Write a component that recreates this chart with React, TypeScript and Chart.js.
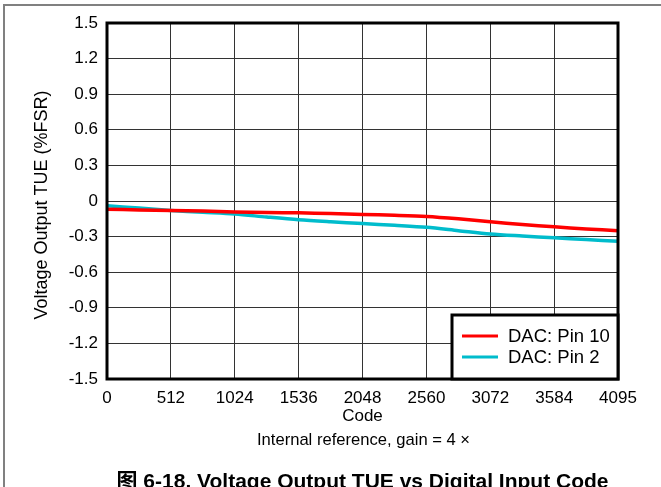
import React, { useEffect, useRef } from "react";
import { Chart, registerables } from "chart.js";

Chart.register(...registerables);

const codes = [0, 256, 512, 768, 1024, 1280, 1536, 1792, 2048, 2304, 2560, 2816, 3072, 3328, 3584, 3840, 4095];
const pin10 = [-0.07, -0.075, -0.08, -0.085, -0.092, -0.097, -0.1, -0.105, -0.113, -0.12, -0.13, -0.15, -0.175, -0.198, -0.218, -0.235, -0.25];
const pin2 = [-0.04, -0.06, -0.08, -0.095, -0.11, -0.135, -0.158, -0.175, -0.19, -0.205, -0.222, -0.25, -0.278, -0.295, -0.31, -0.325, -0.34];
const xTicks = [0, 512, 1024, 1536, 2048, 2560, 3072, 3584, 4095];
const yTicks = [-1.5, -1.2, -0.9, -0.6, -0.3, 0, 0.3, 0.6, 0.9, 1.2, 1.5];
const seriesNames = ["DAC: Pin 10", "DAC: Pin 2"];
const seriesColors = ["#ff0000", "#00bccc"];
const xTitle = "Code";
const yTitle = "Voltage Output TUE (%FSR)";
const subTitle = "Internal reference, gain = 4 ×";
const caption = "图 6-18. Voltage Output TUE vs Digital Input Code";

const FONT = "'Liberation Sans', Arial, sans-serif";

const W = 661;
const H = 487;
const LEFT = 107;
const RIGHT = 618;
const TOP = 23;
const BOTTOM = 379;

const decorPlugin = {
  id: "decor",
  afterDraw(chart: any) {
    const ctx = chart.ctx;
    const a = chart.chartArea;
    ctx.save();
    // outer frame
    ctx.strokeStyle = "#808080";
    ctx.lineWidth = 2;
    ctx.beginPath();
    ctx.moveTo(W, 5);
    ctx.lineTo(4, 5);
    ctx.lineTo(4, H);
    ctx.stroke();
    // plot border
    ctx.strokeStyle = "#000";
    ctx.lineWidth = 3;
    ctx.strokeRect(a.left, a.top, a.right - a.left, a.bottom - a.top);
    // titles
    const cx = (a.left + a.right) / 2;
    ctx.fillStyle = "#000";
    ctx.textAlign = "center";
    ctx.textBaseline = "middle";
    ctx.font = `17px ${FONT}`;
    ctx.fillText(xTitle, cx, 416);
    ctx.font = `16.6px ${FONT}`;
    ctx.fillText(subTitle, cx + 1, 440);
    ctx.font = `bold 21px ${FONT}, 'Noto Sans CJK SC'`;
    ctx.fillText(caption, cx, 482);
    ctx.save();
    ctx.translate(42, 205);
    ctx.rotate(-Math.PI / 2);
    ctx.font = `18px ${FONT}`;
    ctx.fillText(yTitle, 0, 0);
    ctx.restore();
    // legend
    const lx = 452, ly = 315, lw = a.right - 452, lh = a.bottom - 315;
    ctx.fillStyle = "#fff";
    ctx.fillRect(lx, ly, lw, lh);
    ctx.strokeStyle = "#000";
    ctx.lineWidth = 3;
    ctx.strokeRect(lx, ly, lw, lh);
    const rows = [336, 357];
    chart.data.datasets.forEach((ds: any, i: number) => {
      ctx.strokeStyle = ds.borderColor;
      ctx.lineWidth = 3;
      ctx.beginPath();
      ctx.moveTo(462, rows[i]);
      ctx.lineTo(498, rows[i]);
      ctx.stroke();
      ctx.fillStyle = "#000";
      ctx.textAlign = "left";
      ctx.textBaseline = "middle";
      ctx.font = `18.5px ${FONT}`;
      ctx.fillText(ds.label, 508, rows[i] + 1);
    });
    ctx.restore();
  },
};

export default function App() {
  const ref = useRef<HTMLCanvasElement>(null);
  useEffect(() => {
    const canvas = ref.current!;
    const chart = new Chart(canvas, {
      type: "line",
      data: {
        datasets: [
          {
            label: seriesNames[0],
            data: codes.map((c, i) => ({ x: c, y: pin10[i] })),
            borderColor: seriesColors[0],
            borderWidth: 3.5,
            pointRadius: 0,
            tension: 0.3,
          },
          {
            label: seriesNames[1],
            data: codes.map((c, i) => ({ x: c, y: pin2[i] })),
            borderColor: seriesColors[1],
            borderWidth: 3.5,
            pointRadius: 0,
            tension: 0.3,
          },
        ],
      },
      options: {
        responsive: false,
        animation: false,
        layout: { padding: { top: TOP, right: W - RIGHT, left: 0, bottom: 0 } },
        plugins: { legend: { display: false }, tooltip: { enabled: false } },
        scales: {
          x: {
            type: "linear",
            min: 0,
            max: 4095,
            afterBuildTicks: (s: any) => {
              s.ticks = xTicks.map((v) => ({ value: v }));
            },
            afterFit: (s: any) => {
              s.height = H - BOTTOM;
            },
            ticks: {
              autoSkip: false,
              maxRotation: 0,
              padding: 9,
              color: "#000",
              font: { family: FONT, size: 17 },
              callback: (v: any) => String(v),
            },
            grid: { color: "#333", lineWidth: 1, drawTicks: false },
            border: { display: false },
          },
          y: {
            type: "linear",
            min: -1.5,
            max: 1.5,
            afterBuildTicks: (s: any) => {
              s.ticks = yTicks.map((v) => ({ value: v }));
            },
            afterFit: (s: any) => {
              s.width = LEFT;
            },
            ticks: {
              padding: 9,
              color: "#000",
              font: { family: FONT, size: 17 },
              callback: (v: any) => String(Math.round(v * 10) / 10),
            },
            grid: { color: "#333", lineWidth: 1, drawTicks: false },
            border: { display: false },
          },
        },
      },
      plugins: [decorPlugin],
    });
    return () => chart.destroy();
  }, []);
  return (
    <div style={{ position: "fixed", left: 0, top: 0, width: W, height: H, background: "#fff" }}>
      <canvas ref={ref} width={W} height={H} style={{ display: "block", width: W, height: H }} />
    </div>
  );
}
